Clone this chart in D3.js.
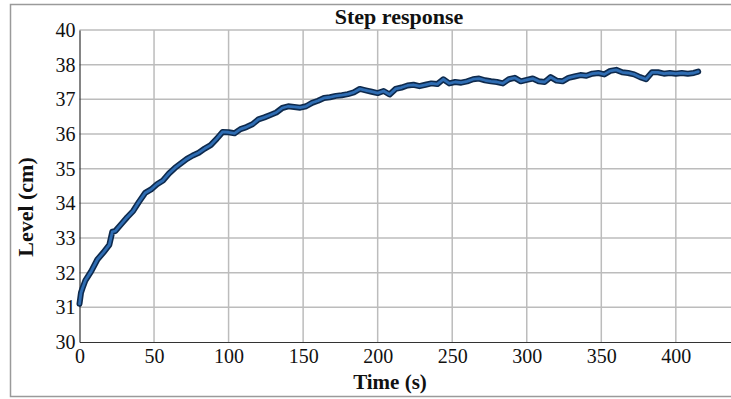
<!DOCTYPE html>
<html lang="en">
<head>
    <meta charset="UTF-8">
    <title>Step response</title>
    <script src="https://d3js.org/d3.v7.min.js"></script>
    <style>
        body { margin: 0; background: #fff; }
        svg { display: block; }
    </style>
</head>
<body>
    <svg id="chart" width="731" height="399"></svg>

    <script>
        const time = [0, 1, 2, 4, 8, 12, 16, 20, 22, 24, 28, 32, 36, 40, 44, 48, 52, 56, 60, 64, 68, 72, 76, 80,
            84, 88, 92, 96, 100, 104, 108, 112, 116, 120, 124, 128, 132, 136, 140, 144, 148, 152, 156, 160,
            164, 168, 172, 176, 180, 184, 188, 192, 196, 200, 204, 208, 212, 216, 220, 224, 228, 232, 236, 240,
            244, 248, 252, 256, 260, 264, 268, 272, 276, 280, 284, 288, 292, 296, 300, 304, 308, 312, 316, 320,
            324, 328, 332, 336, 340, 344, 348, 352, 356, 360, 364, 368, 372, 376, 380, 384, 388, 392, 396, 400,
            404, 408, 412, 415];
        const level = [31.10, 31.42, 31.55, 31.78, 32.05, 32.38, 32.58, 32.80, 33.18, 33.20, 33.40, 33.60, 33.78, 34.05,
            34.30, 34.40, 34.55, 34.66, 34.86, 35.02, 35.15, 35.28, 35.38, 35.46, 35.58, 35.68, 35.86, 36.06,
            36.05, 36.02, 36.14, 36.20, 36.28, 36.42, 36.48, 36.55, 36.62, 36.75, 36.80, 36.78, 36.76, 36.80,
            36.90, 36.96, 37.04, 37.06, 37.10, 37.12, 37.15, 37.20, 37.30, 37.26, 37.22, 37.18, 37.24, 37.14,
            37.30, 37.34, 37.40, 37.42, 37.38, 37.42, 37.46, 37.44, 37.58, 37.46, 37.50, 37.48, 37.52, 37.58,
            37.60, 37.55, 37.52, 37.50, 37.46, 37.58, 37.62, 37.52, 37.56, 37.60, 37.52, 37.50, 37.64, 37.54,
            37.52, 37.62, 37.66, 37.70, 37.68, 37.74, 37.76, 37.72, 37.82, 37.85, 37.78, 37.76, 37.72, 37.64,
            37.58, 37.78, 37.78, 37.74, 37.76, 37.74, 37.76, 37.74, 37.76, 37.80];

        const xTicks = [0, 50, 100, 150, 200, 250, 300, 350, 400];
        const yTicks = [30, 31, 32, 33, 34, 35, 36, 37, 38, 39];
        // the original labels its top gridline "40"
        const yTickLabels = ["30", "31", "32", "33", "34", "35", "36", "37", "38", "40"];

        const serif = '"Liberation Serif", "DejaVu Serif", serif';
        const svg = d3.select("#chart");
        const plotLeft = 79.5, plotRight = 731, plotTop = 30, plotBottom = 342;

        const x = d3.scaleLinear().domain([0, 437]).range([plotLeft, plotRight]);
        const y = d3.scaleLinear().domain([30, 39]).range([plotBottom, plotTop]);

        // outer frame
        svg.append("rect")
            .attr("x", 10.5).attr("y", 4.5)
            .attr("width", 730).attr("height", 392)
            .attr("fill", "none").attr("stroke", "#9a9a9a").attr("stroke-width", 1.5);

        // grid
        const grid = svg.append("g").attr("stroke", "#bcbcbc").attr("stroke-width", 1.5);
        grid.selectAll("line.h").data(yTicks.slice(1)).join("line")
            .attr("x1", plotLeft).attr("x2", plotRight)
            .attr("y1", d => y(d)).attr("y2", d => y(d));
        grid.selectAll("line.v").data(xTicks.slice(1)).join("line")
            .attr("x1", d => x(d)).attr("x2", d => x(d))
            .attr("y1", plotTop).attr("y2", plotBottom);

        // axes
        const xAxis = svg.append("g")
            .attr("transform", `translate(0,${plotBottom})`)
            .call(d3.axisBottom(x).tickValues(xTicks).tickSize(0).tickPadding(7));
        const yAxis = svg.append("g")
            .attr("transform", `translate(${plotLeft},0)`)
            .call(d3.axisLeft(y).tickValues(yTicks).tickSize(0).tickPadding(4)
                .tickFormat((d, i) => yTickLabels[i]));
        [xAxis, yAxis].forEach(a => {
            a.attr("font-family", serif).attr("font-size", 20);
            a.select(".domain").attr("stroke", "#333").attr("stroke-width", 1.2);
            a.selectAll("text").attr("fill", "#111").style("font-family", serif).style("font-size", "20px");
        });
        xAxis.selectAll("text").attr("dy", "0.72em");

        // data line: dark outline with a blue core
        const line = d3.line().x((d, i) => x(time[i])).y(d => y(d));
        svg.append("path").datum(level)
            .attr("fill", "none").attr("stroke", "#0e2a4d")
            .attr("stroke-width", 6).attr("stroke-linejoin", "round").attr("stroke-linecap", "round")
            .attr("d", line);
        svg.append("path").datum(level)
            .attr("fill", "none").attr("stroke", "#2f6db3")
            .attr("stroke-width", 2.8).attr("stroke-linejoin", "round").attr("stroke-linecap", "round")
            .attr("d", line);

        // titles
        svg.append("text")
            .attr("x", 399).attr("y", 24).attr("text-anchor", "middle")
            .style("font-family", serif).style("font-weight", "bold").style("font-size", "22px")
            .attr("fill", "#111").text("Step response");
        svg.append("text")
            .attr("x", 390).attr("y", 389).attr("text-anchor", "middle")
            .style("font-family", serif).style("font-weight", "bold").style("font-size", "21px")
            .attr("fill", "#111").text("Time (s)");
        svg.append("text")
            .attr("transform", "translate(33,207) rotate(-90)")
            .attr("text-anchor", "middle")
            .style("font-family", serif).style("font-weight", "bold").style("font-size", "22px")
            .attr("fill", "#111").text("Level  (cm)");
    </script>
</body>
</html>
